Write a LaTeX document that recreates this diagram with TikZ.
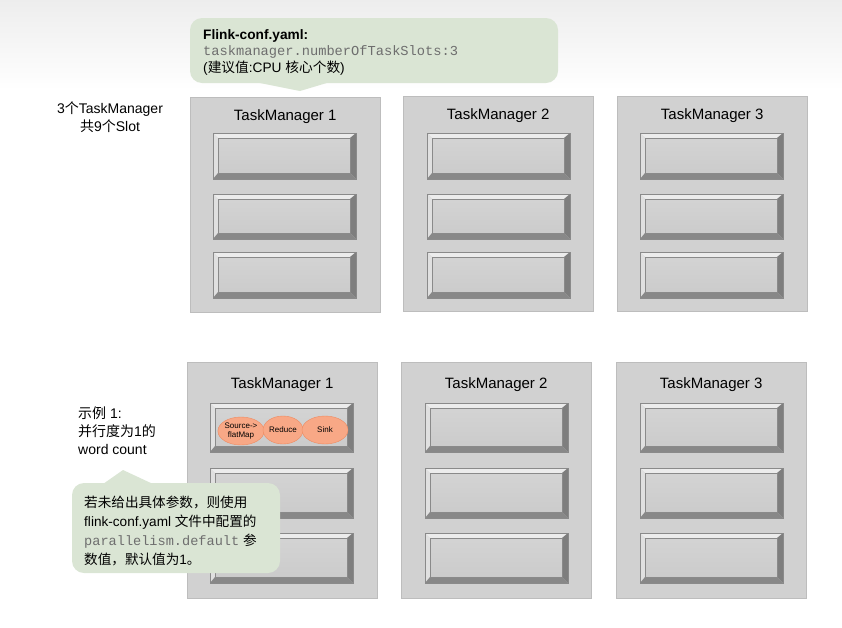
\documentclass[tikz,border=0pt]{standalone}
\usepackage{fontspec}
\setmainfont{Liberation Sans}
\setmonofont{Liberation Mono}
\newfontfamily\cjk{Noto Sans CJK SC}
\usetikzlibrary{positioning,calc,shapes.geometric}

\definecolor{tmfill}{HTML}{D1D1D1}
\definecolor{tmedge}{HTML}{BDBDBD}
\definecolor{slotface}{HTML}{CACACA}
\definecolor{slotedge}{HTML}{8A8A8A}
\definecolor{bevlight}{HTML}{ECECEC}
\definecolor{bevside}{HTML}{E0E0E0}
\definecolor{bevdark}{HTML}{7E7E7E}
\definecolor{bevbottom}{HTML}{888888}
\definecolor{notefill}{HTML}{DAE5D4}
\definecolor{opfill}{HTML}{F8A886}
\definecolor{opedge}{HTML}{EE8A60}
\definecolor{codegray}{HTML}{6E6E6E}

\tikzset{
    tmbox/.style={draw=tmedge, fill=tmfill, minimum width=190, minimum height=215, anchor=north west, inner sep=0},
    tmtitle/.style={font=\fontsize{15}{17}\selectfont, anchor=north},
    op/.style={ellipse, draw=opedge, fill=opfill, minimum width=46, minimum height=28, inner sep=0, align=center, font=\fontsize{8}{8.5}\selectfont},
    note/.style={fill=notefill, rounded corners=12},
    notetext/.style={anchor=north west, align=left, inner sep=0, font=\fontsize{13.6}{19}\selectfont},
    sidetext/.style={align=left, inner sep=0, font=\fontsize{14}{18}\selectfont},
}

% bevelled slot: x1 y1 x2 y2 (pixel coordinates, y pointing down)
\newcommand{\slotbox}[4]{%
    \shade[top color=slotface!80!white, bottom color=slotface] (#1,#2) rectangle (#3,#4);
    \fill[bevlight] (#1,#2) -- (#3,#2) -- (#3-6,#2+5) -- (#1+5,#2+5) -- cycle;
    \fill[bevside] (#1,#2) -- (#1+5,#2+5) -- (#1+5,#4-6) -- (#1,#4) -- cycle;
    \fill[bevdark] (#3,#2) -- (#3,#4) -- (#3-6,#4-6) -- (#3-6,#2+5) -- cycle;
    \fill[bevbottom] (#1,#4) -- (#1+5,#4-6) -- (#3-6,#4-6) -- (#3,#4) -- cycle;
    \draw[slotedge, line width=0.5] (#1+5,#2+5) rectangle (#3-6,#4-6);
    \draw[slotedge, line width=0.6] (#1,#2) rectangle (#3,#4);
}

\begin{document}
\begin{tikzpicture}[x=1pt, y=-1pt]
    \useasboundingbox (0,0) rectangle (842,627);
    \shade[top color=gray!14, bottom color=white] (0,0) rectangle (842,90);

    % top row: 3 TaskManagers, 9 slots
    \node[tmbox] (tma) at (190,97) {};
    \node[tmbox] (tmb) at (403,96) {};
    \node[tmbox] (tmc) at (617,96) {};
    \node[tmtitle, below=9pt of tma.north, anchor=north] (tma title) {TaskManager 1};
    \node[tmtitle, below=9pt of tmb.north, anchor=north] (tmb title) {TaskManager 2};
    \node[tmtitle, below=9pt of tmc.north, anchor=north] (tmc title) {TaskManager 3};

    \foreach \x in {213,427,640}{
        \slotbox{\x}{133}{\x+143}{179}
        \slotbox{\x}{194}{\x+143}{239}
        \slotbox{\x}{252}{\x+143}{298}
    }

    % bottom row: word count with parallelism 1
    \node[tmbox, minimum height=236] (tmd) at (187,362) {};
    \node[tmbox, minimum height=236] (tme) at (401,362) {};
    \node[tmbox, minimum height=236] (tmf) at (616,362) {};
    \node[tmtitle, below=12pt of tmd.north, anchor=north] (tmd title) {TaskManager 1};
    \node[tmtitle, below=12pt of tme.north, anchor=north] (tme title) {TaskManager 2};
    \node[tmtitle, below=12pt of tmf.north, anchor=north] (tmf title) {TaskManager 3};

    \foreach \x in {210,425,640}{
        \slotbox{\x}{403}{\x+143}{452}
        \slotbox{\x}{468}{\x+143}{518}
        \slotbox{\x}{533}{\x+143}{583}
    }

    \node[op] (src) at (241,431) {Source->\\flatMap};
    \node[op, minimum width=40] (reduce) at (283,430) {Reduce};
    \node[op] (sink) at (325,430) {Sink};

    % side labels
    \node[sidetext, align=center] (total) at (110,117) {3{\cjk 个}TaskManager\\{\cjk 共}9{\cjk 个}Slot};
    \node[sidetext, anchor=north west] (example) at (78,407) {{\cjk 示例} 1:\\{\cjk 并行度为}1{\cjk 的}\\word count};

    % callouts
    \fill[note] (190,18) rectangle (558,83);
    \fill[notefill] (255,82) -- (300,91) -- (330,82) -- cycle;
    \node[notetext, font=\fontsize{13.7}{16.5}\selectfont] (conf) at (203,29) {\textbf{Flink-conf.yaml:}\\{\color{codegray}\ttfamily taskmanager.numberOfTaskSlots:3}\\({\cjk 建议值}:CPU {\cjk 核心个数})};

    \fill[note] (72,483) rectangle (280,573);
    \fill[notefill] (103,484) -- (123,470) -- (153,484) -- cycle;
    \node[notetext] (default) at (84,496) {{\cjk 若未给出具体参数，则使用}\\flink-conf.yaml {\cjk 文件中配置的}\\{\color{codegray}\ttfamily parallelism.default} {\cjk 参}\\{\cjk 数值，默认值为}1{\cjk 。}};
\end{tikzpicture}
\end{document}
